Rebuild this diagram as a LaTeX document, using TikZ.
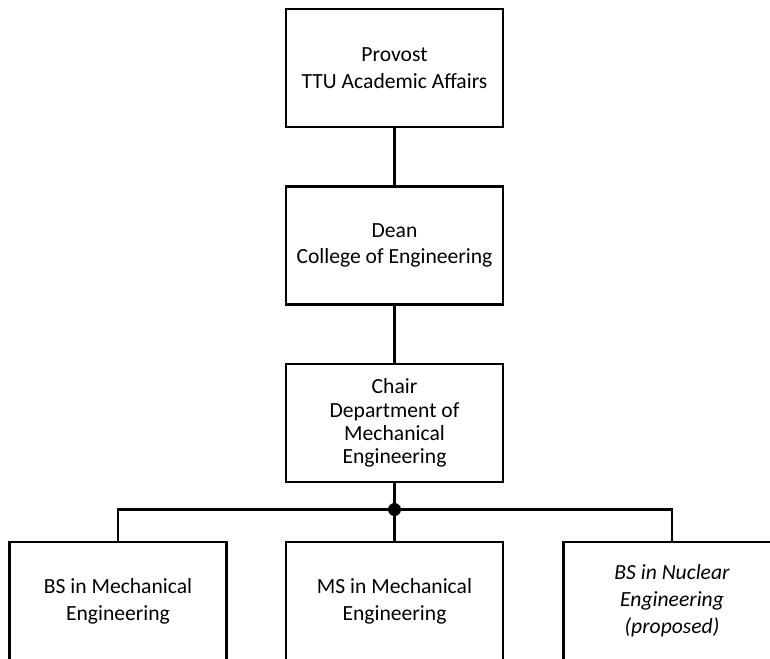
\documentclass[tikz,border=0pt]{standalone}
\usepackage{fontspec}
\setmainfont{Carlito}
\usetikzlibrary{positioning}

\begin{document}
\begin{tikzpicture}[x=1pt,y=-1pt,line width=2.8pt,
  orgbox/.style={draw,fill=white,minimum width=217pt,minimum height=118pt,
    align=center,inner sep=0pt,font=\fontsize{21.6}{26.8}\selectfont}]
\useasboundingbox (0,0) rectangle (770,658);
\clip (0,0) rectangle (770,658);
\node[orgbox] (provost) at (394.5,68) {Provost\\TTU Academic Affairs};
\node[orgbox] (dean) at (394.5,245.5) {Dean\\College of Engineering};
\node[orgbox,font=\fontsize{21.6}{23.2}\selectfont] (chair) at (394.5,423) {Chair\\Department of\\Mechanical\\Engineering};
\coordinate (hub) at (394.5,509.5);
\node[orgbox] (bsme) at (118,601) {BS in Mechanical\\Engineering};
\node[orgbox] (msme) at (394.5,601) {MS in Mechanical\\Engineering};
\node[orgbox,font=\fontsize{21.6}{26.8}\selectfont\itshape] (bsne) at (672,601) {BS in Nuclear\\Engineering\\(proposed)};
\draw (provost) -- (dean);
\draw (dean) -- (chair);
\draw (chair) -- (hub) -- (msme);
\draw (bsme.north) |- (hub) -| (bsne.north);
\fill (hub) circle [radius=6.5];
\end{tikzpicture}
\end{document}
